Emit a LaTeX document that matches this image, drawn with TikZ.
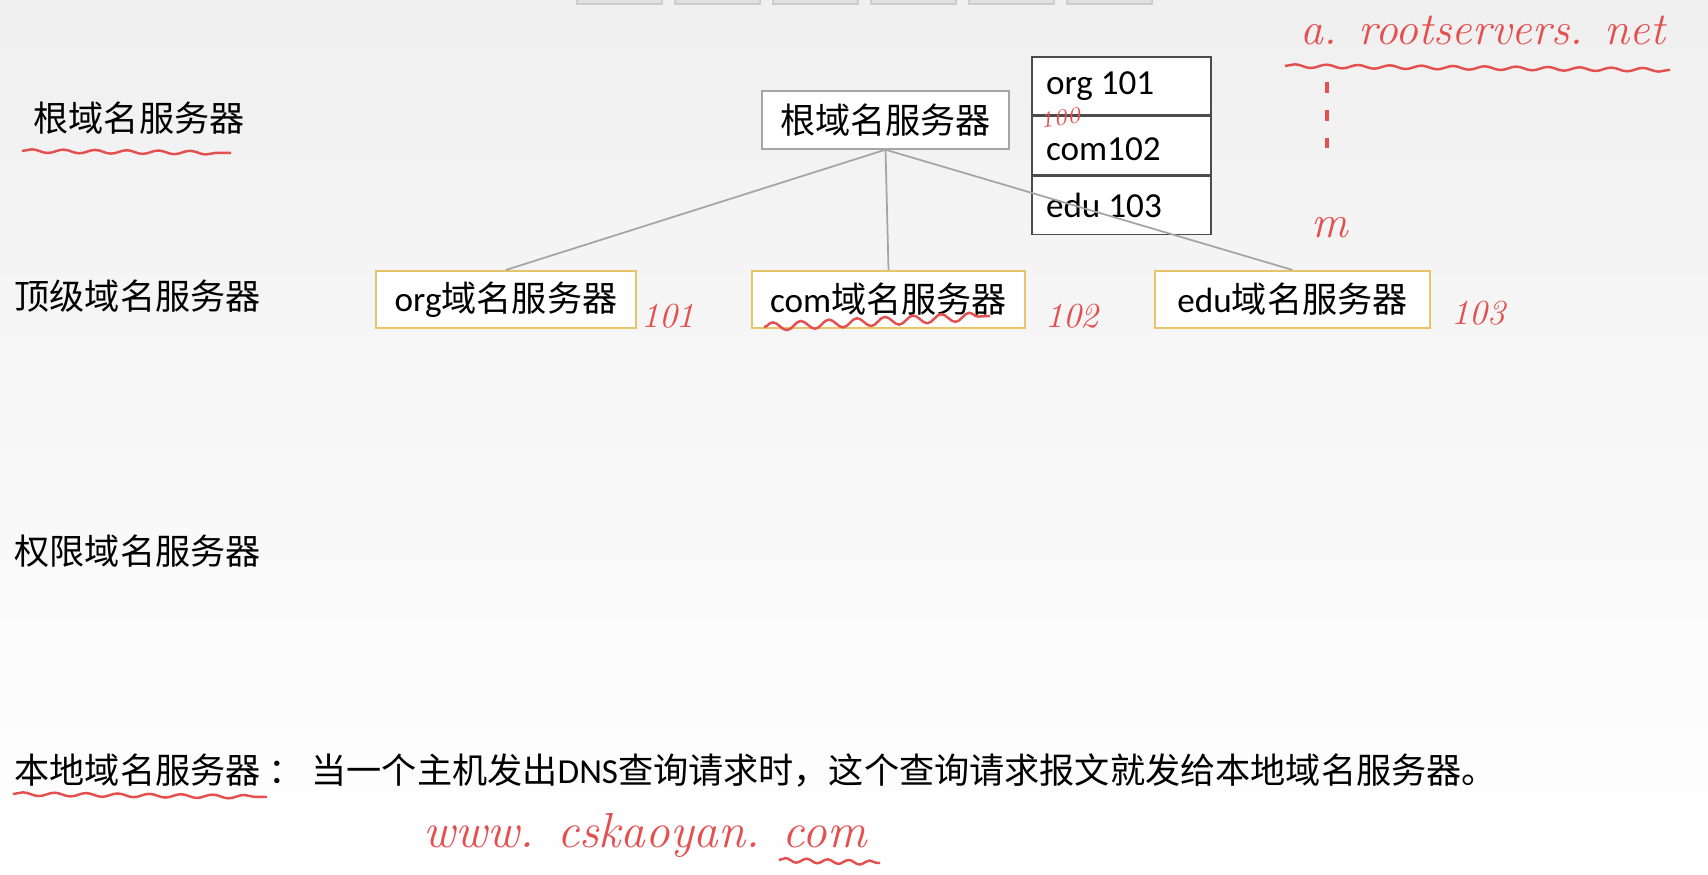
\documentclass[tikz,border=0pt]{standalone}
\usepackage{fontspec}
\newfontfamily\cjk{Noto Sans CJK SC}
\newfontfamily\lat{Carlito}
\usetikzlibrary{positioning, decorations.pathmorphing}
\definecolor{ink}{RGB}{228,80,80}
\definecolor{gold}{RGB}{232,196,104}
\definecolor{edge}{RGB}{165,165,165}

\begin{document}
\begin{tikzpicture}[x=0.1mm, y=-0.1mm,
  label/.style={inner sep=0pt, font=\cjk\fontsize{10}{12}\selectfont},
  rootbox/.style={draw=edge, fill=white, minimum height=5.8mm, inner sep=0pt, font=\cjk\fontsize{10}{12}\selectfont},
  tldbox/.style={draw=gold, fill=white, line width=0.6pt, minimum height=5.7mm, inner sep=0pt, font=\cjk\fontsize{10}{12}\selectfont},
  cell/.style={draw=black!70, fill=white, minimum width=17.9mm, minimum height=5.83mm, inner sep=0pt, font=\lat\fontsize{10}{12}\selectfont},
  hand/.style={ink, inner sep=0pt, font=\itshape\fontsize{13}{13}\selectfont},
  wavy/.style={ink, line width=0.7pt, decorate, decoration={snake, amplitude=0.5pt, segment length=9pt}}]

% slide background
\fill[top color=black!6, bottom color=white] (0,0) rectangle (1708,875);
\useasboundingbox (0,0) rectangle (1708,875);

% toolbar tabs at the top
\foreach \tx in {577,675,773,871,969,1067}
  \draw[black!20, fill=black!12] (\tx,-8) rectangle +(85,12);

% level names
\node[label, anchor=west] (lroot) at (33,118) {根域名服务器};
\node[label, anchor=west] (ltld) at (14,296) {顶级域名服务器};
\node[label, anchor=west] (lauth) at (14,551) {权限域名服务器};
\node[label, anchor=west] (llocal) at (14,770) {本地域名服务器\ ：\ 当一个主机发出{\lat DNS}查询请求时，这个查询请求报文就发给本地域名服务器。};

% root server and its table
\node[rootbox, minimum width=24.7mm] (root) at (885.5,120) {根域名服务器};
\node[cell] (torg) at (1121.5,86) {};
\node[cell, below=0pt of torg] (tcom) {};
\node[cell, below=0pt of tcom] (tedu) {};
\node[anchor=west, inner sep=0pt, font=\lat\fontsize{10}{12}\selectfont] (korg) at ([xshift=1.4mm]torg.west) {org 101};
\node[anchor=west, inner sep=0pt, font=\lat\fontsize{10}{12}\selectfont] (kcom) at ([xshift=1.4mm,yshift=-1pt]tcom.west) {com102};
\node[anchor=west, inner sep=0pt, font=\lat\fontsize{10}{12}\selectfont] (kedu) at ([xshift=1.4mm]tedu.west) {edu 103};

% top level servers
\node[tldbox, minimum width=26mm] (org) at (506,299.5) {{\lat org}域名服务器};
\node[tldbox, minimum width=27.3mm] (com) at (888.5,299.5) {{\lat com}域名服务器};
\node[tldbox, minimum width=27.5mm] (edu) at (1292.5,299.5) {{\lat edu}域名服务器};

\draw[edge, line width=0.5pt] (root.south) -- (org.north);
\draw[edge, line width=0.5pt] (root.south) -- (com.north);
\draw[edge, line width=0.5pt] (root.south) -- (edu.north);

% handwritten notes
\node[hand, anchor=base west] (rname) at (1300,45) {a. rootservers. net};
\draw[wavy] (1285,66) -- (1670,70);
\draw[ink, line width=1pt, dash pattern=on 3pt off 5pt] (1327,82) -- (1327,148);
\node[hand] (rm) at (1330,228) {m};
\node[hand, font=\itshape\fontsize{6.5}{6.5}\selectfont, rotate=10] (n100) at (1060,118) {100};
\node[hand, font=\itshape\fontsize{10}{10}\selectfont] (n101) at (668,316) {101};
\node[hand, font=\itshape\fontsize{10}{10}\selectfont] (n102) at (1072,316) {102};
\node[hand, font=\itshape\fontsize{10}{10}\selectfont] (n103) at (1478,313) {103};
\draw[wavy, decoration={snake, amplitude=1.2pt, segment length=8pt}] (764,327) -- (990,316);
\draw[wavy] (22,151) -- (231,153);
\draw[wavy] (13,794) -- (267,797);
\node[hand, font=\itshape\fontsize{14}{14}\selectfont] (site) at (645,835) {www. cskaoyan. com};
\draw[wavy, decoration={snake, amplitude=0.6pt, segment length=6pt}] (779,860) -- (880,863);
\end{tikzpicture}
\end{document}
